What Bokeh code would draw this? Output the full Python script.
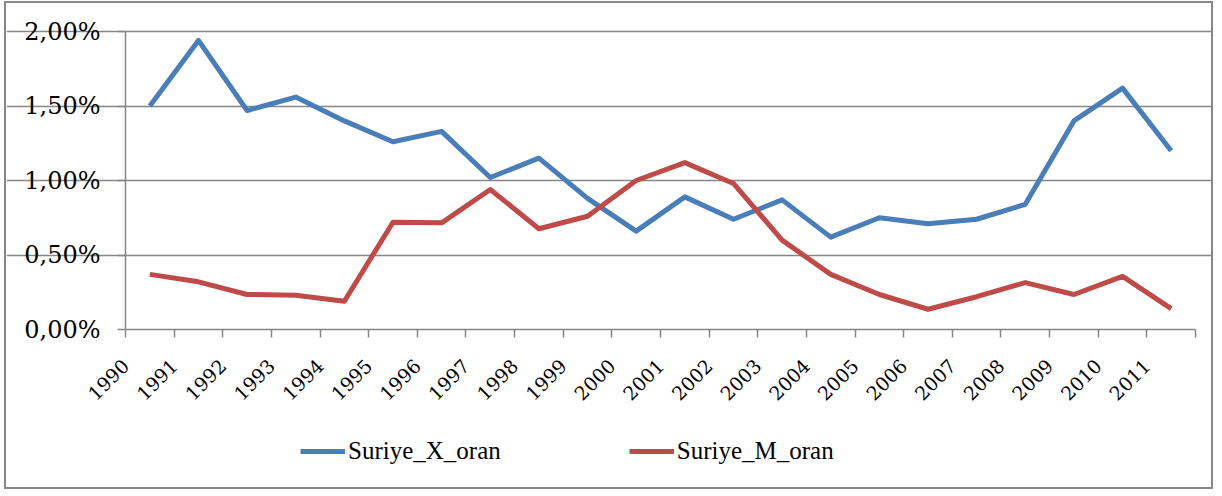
import math
from bokeh.plotting import figure
from bokeh.models import (Range1d, LinearAxis, FixedTicker, CustomJSTickFormatter,
                          Legend, LegendItem, Grid)
from bokeh.embed import file_html
from bokeh.resources import INLINE

years = [str(y) for y in range(1990, 2012)]
suriye_x = [1.50, 1.94, 1.47, 1.56, 1.40, 1.26, 1.33, 1.02, 1.15, 0.88, 0.66,
            0.89, 0.74, 0.87, 0.62, 0.75, 0.71, 0.74, 0.84, 1.40, 1.62, 1.20]
suriye_m = [0.37, 0.32, 0.235, 0.23, 0.19, 0.72, 0.716, 0.94, 0.676, 0.76, 1.00,
            1.12, 0.98, 0.60, 0.37, 0.235, 0.136, 0.22, 0.315, 0.235, 0.356, 0.14]
y_ticks = [0.0, 0.5, 1.0, 1.5, 2.0]
series_names = ["Suriye_X_oran", "Suriye_M_oran"]

# layout (pixels inside the bordered canvas)
W, H = 1209, 488
LEFT, RIGHT = 119, 1189     # x pixel of category axis start / end
TOP, BOTTOM = 28, 326       # y pixel of 2,00% / 0,00%
GRAY = "#868686"
BLUE = "#4a7ebb"
RED = "#be4b48"
AXIS_FONT = "DejaVu Serif"
LEG_FONT = "Liberation Serif"

n = len(years)
xs = [i + 0.5 for i in range(n)]
y_max = y_ticks[-1]
px_x = (RIGHT - LEFT) / n
px_y = (BOTTOM - TOP) / y_max
x_rng = Range1d(-LEFT / px_x, n + (W - RIGHT) / px_x)
y_rng = Range1d(-(H - BOTTOM) / px_y, y_max + TOP / px_y)

p = figure(width=W, height=H, output_backend="svg", toolbar_location=None,
           x_range=x_rng, y_range=y_rng,
           x_axis_type=None, y_axis_type=None,
           min_border_left=0, min_border_right=0, min_border_top=0,
           min_border_bottom=0)
p.outline_line_color = None
p.background_fill_color = "white"
p.border_fill_color = "white"
p.styles = {"border": "2px solid #868686", "margin-left": "4px", "margin-top": "1px"}

# y axis pinned at x = 0
yax = LinearAxis(ticker=FixedTicker(ticks=y_ticks), bounds=(0, y_max), fixed_location=0,
                 formatter=CustomJSTickFormatter(code="return tick.toFixed(2).replace('.', ',') + '%';"))
yax.axis_line_color = GRAY
yax.axis_line_width = 1.5
yax.major_tick_line_color = GRAY
yax.major_tick_line_width = 1.5
yax.major_tick_out = 8
yax.major_tick_in = 0
yax.minor_tick_line_color = None
yax.major_label_text_font = AXIS_FONT
yax.major_label_text_font_size = "24px"
yax.major_label_text_color = "black"
yax.major_label_standoff = 17
p.add_layout(yax, "left")

# x axis (ticks at category boundaries, labels rotated), pinned at y = 0
xax = LinearAxis(ticker=FixedTicker(ticks=list(range(n + 1))), bounds=(0, n), fixed_location=0,
                 formatter=CustomJSTickFormatter(args=dict(years=years),
                     code="const i = Math.round(tick); return i < years.length ? years[i] : '';"))
xax.axis_line_color = GRAY
xax.axis_line_width = 1.5
xax.major_tick_line_color = GRAY
xax.major_tick_line_width = 1.5
xax.major_tick_out = 8
xax.major_tick_in = 0
xax.minor_tick_line_color = None
xax.major_label_orientation = math.pi / 4
xax.major_label_text_font = AXIS_FONT
xax.major_label_text_font_size = "19px"
xax.major_label_text_color = "black"
xax.major_label_standoff = 25
p.add_layout(xax, "below")

# horizontal grid lines
g = Grid(dimension=1, ticker=FixedTicker(ticks=y_ticks[1:]), bounds=(0, n),
         grid_line_color=GRAY, grid_line_width=1.5)
p.add_layout(g)

rx = p.line(xs, suriye_x, line_color=BLUE, line_width=5, line_join="round")
rm = p.line(xs, suriye_m, line_color=RED, line_width=5, line_join="round")

legend = Legend(items=[LegendItem(label=series_names[0], renderers=[rx]),
                       LegendItem(label=series_names[1], renderers=[rm])],
                orientation="horizontal", location=(294, 26))
legend.label_text_font = LEG_FONT
legend.label_text_font_size = "25px"
legend.label_text_color = "black"
legend.glyph_width = 45
legend.glyph_height = 20
legend.label_standoff = 3
legend.spacing = 128
legend.border_line_color = None
legend.background_fill_alpha = 0
legend.padding = 0
legend.margin = 0
p.add_layout(legend, "center")

open("out.html", "w").write(file_html(p, INLINE))
